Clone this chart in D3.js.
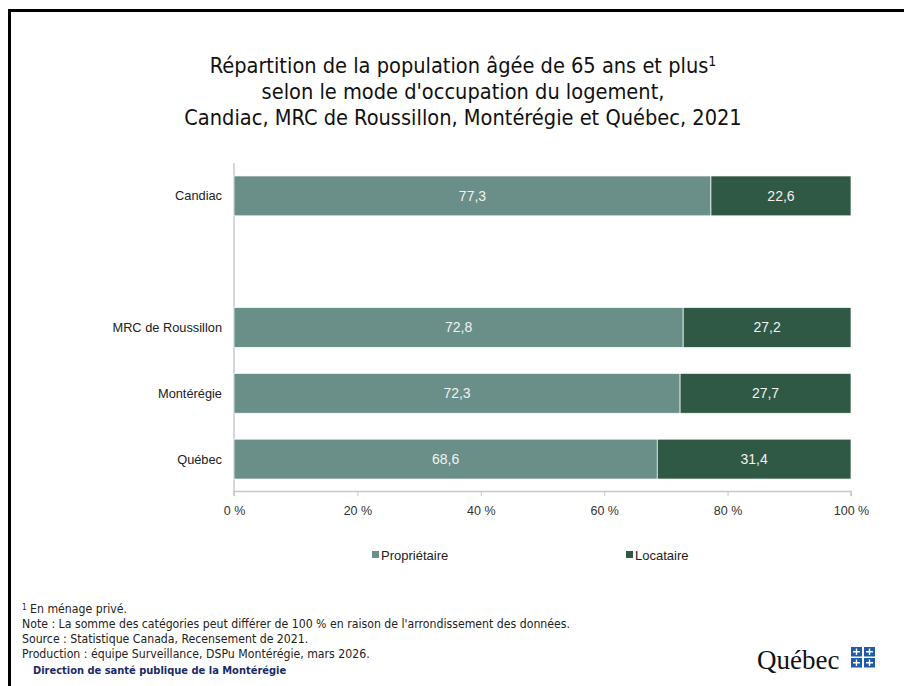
<!DOCTYPE html>
<html><head><meta charset="utf-8">
<script src="https://cdn.jsdelivr.net/npm/d3@7"></script>
<style>
body{margin:0;background:#fff;}
svg{display:block;}
</style></head><body>
<svg id="c" width="904" height="686"></svg>
<script>
const categories = ["Candiac", "", "MRC de Roussillon", "Montérégie", "Québec"];
const proprietaire = [77.3, null, 72.8, 72.3, 68.6];
const locataire = [22.6, null, 27.2, 27.7, 31.4];
const seriesNames = ["Propriétaire", "Locataire"];
const xTicks = [0, 20, 40, 60, 80, 100];
const titleLines = ["Répartition de la population âgée de 65 ans et plus", "selon le mode d'occupation du logement,", "Candiac, MRC de Roussillon, Montérégie et Québec, 2021"];
const footLines = ["En ménage privé.", "Note : La somme des catégories peut différer de 100 % en raison de l'arrondissement des données.", "Source : Statistique Canada, Recensement de 2021.", "Production : équipe Surveillance, DSPu Montérégie, mars 2026."];

const colors = ["#6a8f89", "#2f5945"];
const svg = d3.select("#c");
const narrow = "'Liberation Sans Narrow', 'Arial Narrow', 'DejaVu Sans Condensed', sans-serif";
const sans = "'Liberation Sans', Arial, sans-serif";

// frame
svg.append("path").attr("d","M9.5,686 V10.5 H904").attr("fill","none").attr("stroke","#000").attr("stroke-width",3);

// title
const t = svg.append("text").attr("text-anchor","middle").attr("font-family",narrow).attr("font-size",21.6).attr("fill","#111");
titleLines.forEach((l,i)=>{
  t.append("tspan").attr("x",463).attr("y",73+i*26).attr("dy",0).text(l);
  if(i===0){ t.append("tspan").attr("font-size",14).attr("dy",-7).text("1"); }
});

const x = d3.scaleLinear().domain([0,100]).range([234,851]);
const y = d3.scaleBand().domain(categories.map((c,i)=>i)).range([163,492]).paddingInner(0.394).paddingOuter(0.197);

// y axis line
svg.append("line").attr("x1",234).attr("x2",234).attr("y1",163).attr("y2",491).attr("stroke","#c8c8c8").attr("stroke-width",1.5);

// x axis
const xa = svg.append("g").attr("transform","translate(0,491)")
  .call(d3.axisBottom(x).tickValues(xTicks).tickSize(5).tickFormat(d=>d+" %"));
xa.select(".domain").attr("stroke","#c8c8c8").attr("stroke-width",1.5).attr("d","M234,5V0.5H851V5");
xa.selectAll(".tick line").attr("stroke","#c8c8c8");
xa.selectAll("text").attr("font-family",sans).attr("font-size",12.5).attr("fill","#333").attr("dy","1.25em");

// bars
const data = categories.map((c,i)=>({i, c, p: proprietaire[i], l: locataire[i]})).filter(d=>d.p!=null);
const g = svg.append("g");
const fmt = v => v.toFixed(1).replace(".",",");
data.forEach(d=>{
  g.append("rect").attr("x",x(0)).attr("y",y(d.i)).attr("width",x(d.p)-x(0)).attr("height",y.bandwidth())
    .attr("fill",colors[0]).attr("stroke","#fff").attr("stroke-width",0.7);
  g.append("rect").attr("x",x(d.p)).attr("y",y(d.i)).attr("width",x(100)-x(d.p)).attr("height",y.bandwidth())
    .attr("fill",colors[1]).attr("stroke","#fff").attr("stroke-width",0.7);
  g.append("text").attr("x",x(d.p/2)).attr("y",y(d.i)+y.bandwidth()/2).attr("dy","0.35em").attr("text-anchor","middle")
    .attr("font-family",sans).attr("font-size",14).attr("fill","#f2f2f2").text(fmt(d.p));
  g.append("text").attr("x",(x(d.p)+x(100))/2).attr("y",y(d.i)+y.bandwidth()/2).attr("dy","0.35em").attr("text-anchor","middle")
    .attr("font-family",sans).attr("font-size",14).attr("fill","#f2f2f2").text(fmt(d.l));
  svg.append("text").attr("x",222).attr("y",y(d.i)+y.bandwidth()/2).attr("dy","0.35em").attr("text-anchor","end")
    .attr("font-family",sans).attr("font-size",12.8).attr("fill","#222").text(d.c);
});

// legend
const legX = [372, 626];
seriesNames.forEach((s,i)=>{
  svg.append("rect").attr("x",legX[i]).attr("y",551).attr("width",7).attr("height",7).attr("fill",colors[i]);
  svg.append("text").attr("x",legX[i]+9).attr("y",559.5).attr("font-family",sans).attr("font-size",13).attr("fill","#222").text(s);
});

// footnotes
const ft = svg.append("g").attr("font-family",narrow).attr("font-size",12.2).attr("fill","#222");
footLines.forEach((l,i)=>{
  const tx = ft.append("text").attr("x",22).attr("y",613+i*15);
  if(i===0){ tx.append("tspan").attr("font-size",8).attr("dy",-3).text("1"); tx.append("tspan").attr("dy",3).text(" "+l); }
  else tx.text(l);
});
svg.append("text").attr("x",33).attr("y",674).attr("font-family",narrow).attr("font-size",11).attr("font-weight","bold").attr("fill","#1a2a66").text("Direction de santé publique de la Montérégie");

// Québec logo
svg.append("text").attr("x",757).attr("y",669).attr("font-family","'Liberation Serif', 'DejaVu Serif', serif").attr("font-size",27).attr("fill","#111").text("Québec");
const lg = svg.append("g").attr("transform","translate(851,647)");
[[0,0],[13,0],[0,11],[13,11]].forEach(([a,b])=>{
  lg.append("rect").attr("x",a).attr("y",b).attr("width",11).attr("height",9.5).attr("fill","#1f5ca8");
  lg.append("path").attr("d",`M${a+5.5},${b+1.5}V${b+8}M${a+2},${b+4.75}H${a+9}`).attr("stroke","#fff").attr("stroke-width",1.4);
});
</script>
</body></html>
